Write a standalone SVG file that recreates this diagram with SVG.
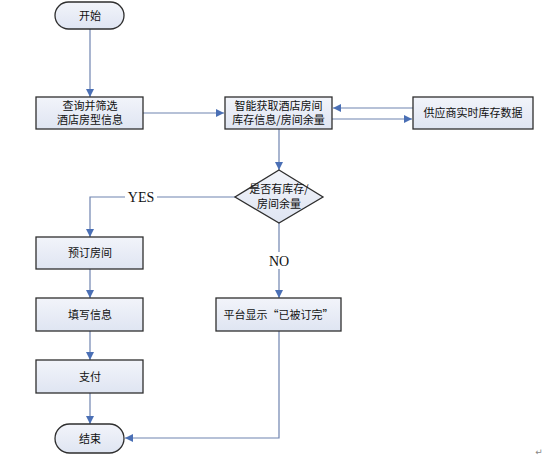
<svg xmlns="http://www.w3.org/2000/svg" width="549" height="461" viewBox="0 0 549 461">
<defs>
<linearGradient id="g" x1="0" y1="0" x2="0" y2="1"><stop offset="0" stop-color="#f2f4fa"/><stop offset="1" stop-color="#dfe5f2"/></linearGradient>
<marker id="ah" viewBox="0 0 10 10" refX="10" refY="5" markerWidth="8" markerHeight="8" markerUnits="userSpaceOnUse" orient="auto"><path d="M0,0 L10,5 L0,10 z" fill="#4a6fb5"/></marker>
</defs>
<style>
.n{fill:url(#g);stroke:#2e2e2e;stroke-width:1.3}
.t{font-family:"Noto Sans CJK SC","Liberation Sans",sans-serif;font-size:11px;fill:#111;text-anchor:middle}
.c{fill:none;stroke:#6f84b0;stroke-width:1.2;marker-end:url(#ah)}
.p{fill:none;stroke:#6f84b0;stroke-width:1.2}
.l{font-family:"Liberation Serif",serif;font-size:14px;fill:#111;text-anchor:middle}
</style>
<rect width="549" height="461" fill="#fff"/>
<g id="connectors">
<path class="c" d="M90,29 V97"/>
<path class="c" d="M143,113 H224"/>
<path class="c" d="M413,108 H333"/>
<path class="c" d="M332,119 H412"/>
<path class="c" d="M279,129 V170"/>
<path class="c" d="M235,197 H90 V237"/>
<path class="c" d="M90,269 V298"/>
<path class="c" d="M90,331 V360"/>
<path class="c" d="M90,393 V424"/>
<path class="c" d="M279,223 V298"/>
<path class="c" d="M279,331 V438 H125"/>
</g>
<g id="start"><rect class="n" x="55" y="2" width="69" height="27" rx="13.5"/><text class="t" x="90" y="19.5">开始</text></g>
<g id="query"><rect class="n" x="36" y="97" width="107" height="32"/><text class="t" x="90" y="109.5">查询并筛选</text><text class="t" x="90" y="124">酒店房型信息</text></g>
<g id="fetch"><rect class="n" x="225" y="97" width="107" height="32"/><text class="t" x="278.5" y="109.5">智能获取酒店房间</text><text class="t" x="278.5" y="124">库存信息/房间余量</text></g>
<g id="supplier"><rect class="n" x="413" y="97" width="120" height="32"/><text class="t" x="473" y="117">供应商实时库存数据</text></g>
<g id="decision"><polygon class="n" points="279,170 323,197 279,223 235,197"/><text class="t" x="279" y="193">是否有库存/</text><text class="t" x="279" y="208">房间余量</text></g>
<rect x="125" y="189" width="32" height="16" fill="#fff"/>
<text class="l" x="141" y="202">YES</text>
<rect x="266" y="252" width="27" height="17" fill="#fff"/>
<text class="l" x="279" y="266">NO</text>
<g id="book"><rect class="n" x="36" y="237" width="107" height="32"/><text class="t" x="90" y="257">预订房间</text></g>
<g id="fill"><rect class="n" x="36" y="298" width="107" height="33"/><text class="t" x="90" y="318.5">填写信息</text></g>
<g id="pay"><rect class="n" x="36" y="360" width="107" height="33"/><text class="t" x="90" y="380.5">支付</text></g>
<g id="soldout"><rect class="n" x="216" y="298" width="125" height="33"/><text class="t" x="278.5" y="318.5">平台显示“已被订完”</text></g>
<g id="end"><rect class="n" x="55" y="424" width="69" height="29" rx="14.5"/><text class="t" x="90" y="442.5">结束</text></g>
<text x="539" y="455" font-family="DejaVu Sans,sans-serif" font-size="9" fill="#888" text-anchor="middle">↵</text>
</svg>
